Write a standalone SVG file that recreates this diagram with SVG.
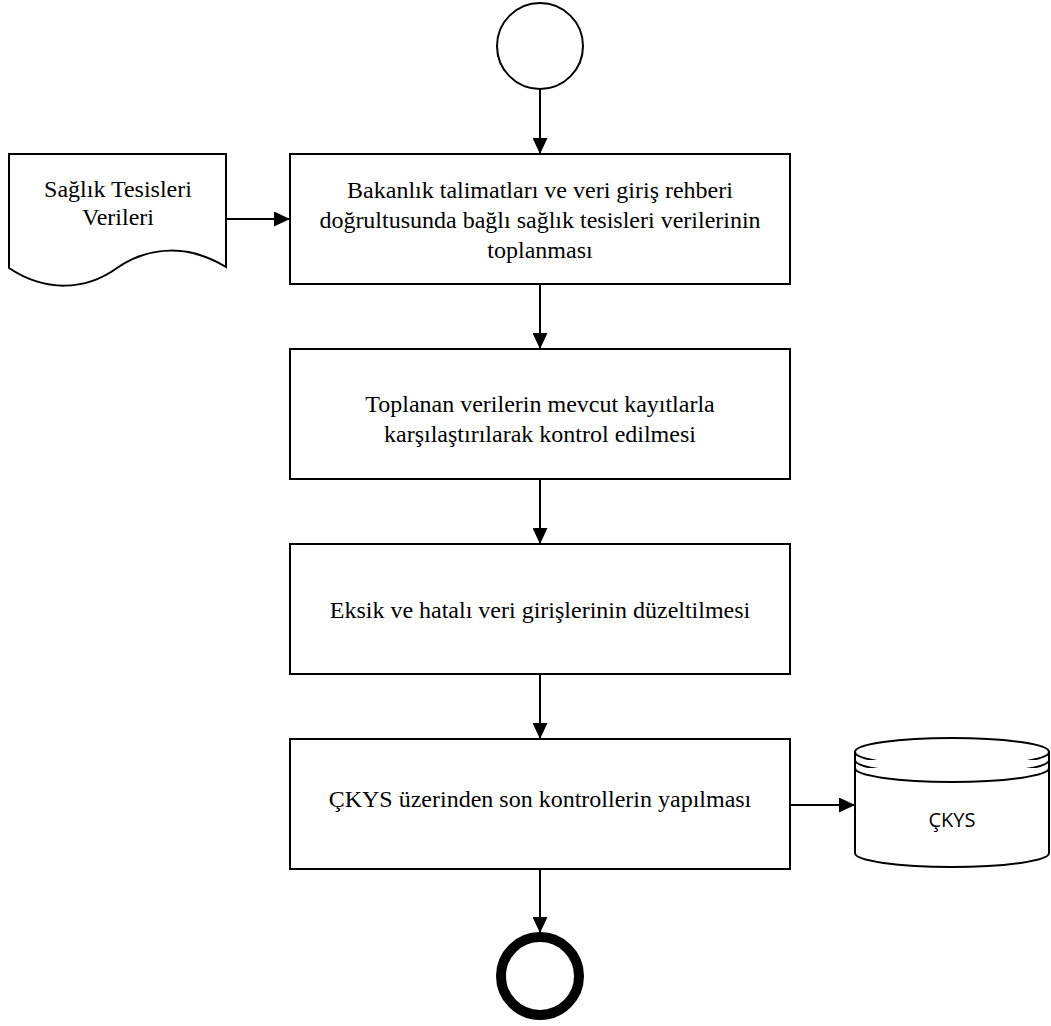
<svg xmlns="http://www.w3.org/2000/svg" width="1051" height="1026" viewBox="0 0 1051 1026">
  <defs>
    <marker id="arrow" markerUnits="userSpaceOnUse" markerWidth="16" markerHeight="15" refX="16" refY="7.5" orient="auto">
      <path d="M0,0 L16,7.5 L0,15 z" fill="#000"/>
    </marker>
    <style>
      .box { fill: #fff; stroke: #000; stroke-width: 2; }
      .shape { fill: #fff; stroke: #000; stroke-width: 2; }
      .txt { font-family: "Liberation Serif", "Times New Roman", serif; font-size: 24px; fill: #000; text-anchor: middle; }
      .sans { font-family: "Open Sans", "Noto Sans", sans-serif; font-size: 20px; fill: #000; text-anchor: middle; }
      .conn { stroke: #000; stroke-width: 2; fill: none; marker-end: url(#arrow); }
    </style>
  </defs>
  <rect width="1051" height="1026" fill="#fff"/>

  <g id="start">
    <circle cx="540" cy="46" r="43" class="shape"/>
  </g>

  <g id="doc">
    <path class="shape" d="M9,154 L226,154 L226,267 C190,245 150,245 117,268 C85,291 45,292 9,268 Z"/>
    <text class="txt" x="118" y="197">Sağlık Tesisleri</text>
    <text class="txt" x="118" y="225">Verileri</text>
  </g>

  <g id="step1">
    <rect class="box" x="290" y="154" width="500" height="130"/>
    <text class="txt" x="540" y="198">Bakanlık talimatları ve veri giriş rehberi</text>
    <text class="txt" x="540" y="228">doğrultusunda bağlı sağlık tesisleri verilerinin</text>
    <text class="txt" x="540" y="258">toplanması</text>
  </g>

  <g id="step2">
    <rect class="box" x="290" y="349" width="500" height="130"/>
    <text class="txt" x="540" y="412">Toplanan verilerin mevcut kayıtlarla</text>
    <text class="txt" x="540" y="442">karşılaştırılarak kontrol edilmesi</text>
  </g>

  <g id="step3">
    <rect class="box" x="290" y="544" width="500" height="130"/>
    <text class="txt" x="540" y="618">Eksik ve hatalı veri girişlerinin düzeltilmesi</text>
  </g>

  <g id="step4">
    <rect class="box" x="290" y="739" width="500" height="130"/>
    <text class="txt" x="540" y="807">ÇKYS üzerinden son kontrollerin yapılması</text>
  </g>

  <g id="db">
    <path class="shape" d="M855,752 L855,853 A97,14 0 0 0 1049,853 L1049,752 Z"/>
    <ellipse class="shape" cx="952" cy="752" rx="97" ry="14"/>
    <path class="shape" fill="none" d="M855,760 A97,14 0 0 0 1049,760"/>
    <path class="shape" fill="none" d="M855,768 A97,14 0 0 0 1049,768"/>
    <text class="sans" x="952" y="827">ÇKYS</text>
  </g>

  <g id="end">
    <circle cx="540" cy="976" r="39" fill="#fff" stroke="#000" stroke-width="10"/>
  </g>

  <g id="connectors">
    <line class="conn" x1="540" y1="89" x2="540" y2="154"/>
    <line class="conn" x1="226" y1="219" x2="290" y2="219"/>
    <line class="conn" x1="540" y1="284" x2="540" y2="349"/>
    <line class="conn" x1="540" y1="479" x2="540" y2="544"/>
    <line class="conn" x1="540" y1="674" x2="540" y2="739"/>
    <line class="conn" x1="790" y1="805" x2="855" y2="805"/>
    <line class="conn" x1="540" y1="869" x2="540" y2="933"/>
  </g>
</svg>
